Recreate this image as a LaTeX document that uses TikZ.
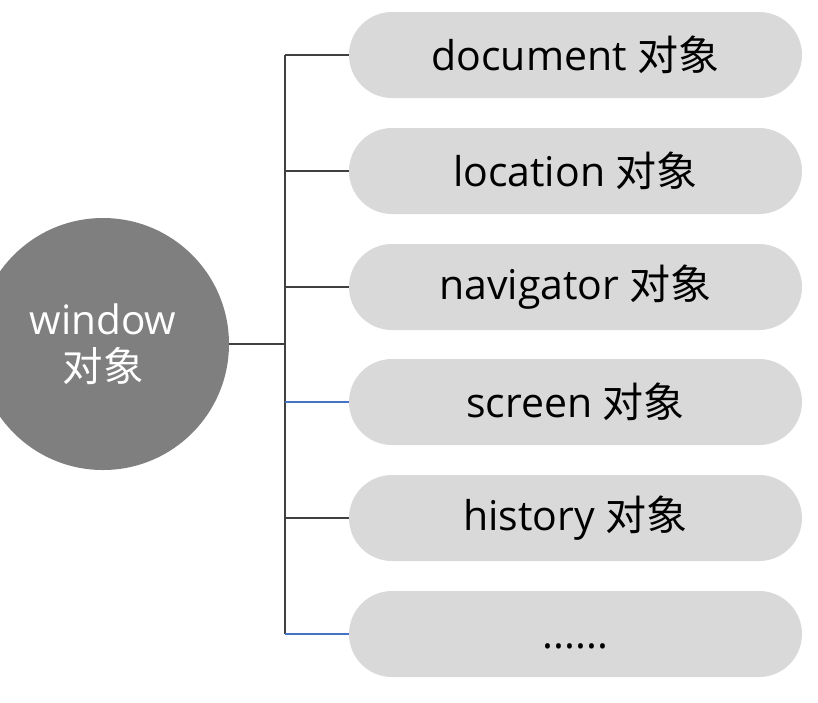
\documentclass[tikz,border=0pt]{standalone}
\usepackage{fontspec}
\setmainfont{Open Sans}
\newfontfamily\cjk{Noto Sans CJK SC}
\definecolor{pillgray}{HTML}{D9D9D9}
\definecolor{circgray}{HTML}{7F7F7F}
\definecolor{linegray}{HTML}{404040}
\definecolor{lineblue}{HTML}{4472C4}
\begin{document}
\begin{tikzpicture}[x=1pt,y=-1pt,
  pill/.style={fill=pillgray, draw=none, rounded corners=43pt, minimum width=453pt, minimum height=86pt, inner sep=0pt, font=\fontsize{41}{48}\selectfont, text=black},
  hub/.style={circle, fill=circgray, draw=none, minimum size=252pt, inner sep=0pt, font=\fontsize{40.5}{50}\selectfont, text=white, align=center},
  darkline/.style={draw=linegray, line width=2pt},
  blueline/.style={draw=lineblue, line width=1.6pt}]
\useasboundingbox (0,0) rectangle (818,702);
\node[hub] (win) at (103,344) {window\\[-3pt]{\cjk 对象}};
\node[pill] (p1) at (575.5,55) {document {\cjk 对象}};
\node[pill] (p2) at (575.5,171) {location {\cjk 对象}};
\node[pill] (p3) at (575.5,287) {navigator {\cjk 对象}};
\node[pill] (p4) at (575.5,402) {screen {\cjk 对象}};
\node[pill] (p5) at (575.5,518) {history {\cjk 对象}};
\node[pill] (p6) at (575.5,634) {\smash{\raisebox{-14pt}{......}}};
\coordinate (top) at (285,55);
\coordinate (bot) at (285,634);
\coordinate (mid) at (285,344);
\draw[darkline] (win.east) -- (mid);
\draw[darkline] (top) -- (bot);
\draw[darkline] (top) -- (p1.west);
\draw[darkline, line width=1.4pt] (p2.west) -- (p2.west -| top);
\draw[darkline] (p3.west) -- (p3.west -| top);
\draw[blueline] (p4.west) -- (p4.west -| top);
\draw[darkline] (p5.west) -- (p5.west -| top);
\draw[blueline] (p6.west) -- (p6.west -| top);
\end{tikzpicture}
\end{document}
